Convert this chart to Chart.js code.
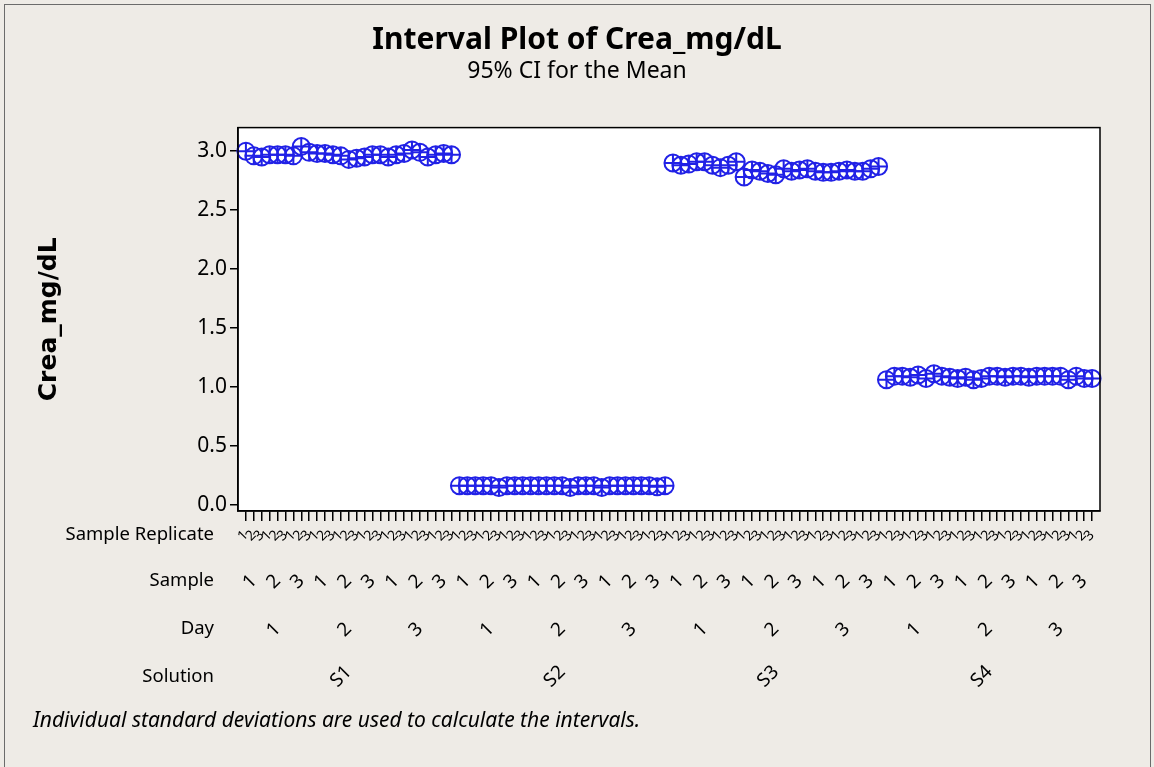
<!DOCTYPE html>
<html>
<head>
<meta charset="utf-8">
<style>
  html, body { margin: 0; padding: 0; background: #eeebe6; }
  body { width: 1154px; height: 767px; position: relative; overflow: hidden; }
  #frame { position: absolute; left: 4px; top: 4px; width: 1145px; height: 780px; border: 1px solid #6b6b6b; }
  #wrap { position: absolute; left: 0; top: 0; width: 1154px; height: 767px; }
  #note { position: absolute; left: 33px; top: 705px; font: italic 21px "Noto Sans", sans-serif; color: #000; }
</style>
</head>
<body>
<div id="frame"></div>
<div id="wrap"><canvas id="myChart" width="1154" height="767"></canvas></div>
<div id="note">Individual standard deviations are used to calculate the intervals.</div>

<script src="https://cdn.jsdelivr.net/npm/chart.js@4.4.1/dist/chart.umd.min.js"></script>
<script>
    // means per solution, in order Day 1..3 / Sample 1..3 / Replicate 1..3
    const s1Means = [3.00, 2.96, 2.95, 2.97, 2.97, 2.97, 2.96, 3.04, 2.99,
                     2.98, 2.98, 2.97, 2.96, 2.93, 2.94, 2.95, 2.97, 2.97,
                     2.95, 2.97, 2.98, 3.01, 2.99, 2.95, 2.97, 2.98, 2.97];
    const s2Means = [0.16, 0.16, 0.16, 0.16, 0.16, 0.145, 0.16, 0.16, 0.16,
                     0.16, 0.16, 0.16, 0.16, 0.16, 0.145, 0.16, 0.16, 0.16,
                     0.145, 0.16, 0.16, 0.16, 0.16, 0.16, 0.16, 0.15, 0.16];
    const s3Means = [2.90, 2.88, 2.89, 2.91, 2.91, 2.88, 2.86, 2.88, 2.91,
                     2.78, 2.84, 2.83, 2.81, 2.80, 2.85, 2.83, 2.84, 2.85,
                     2.83, 2.82, 2.82, 2.83, 2.84, 2.83, 2.83, 2.85, 2.87];
    const s4Means = [1.06, 1.09, 1.09, 1.08, 1.10, 1.07, 1.11, 1.09, 1.08,
                     1.07, 1.08, 1.06, 1.07, 1.09, 1.09, 1.08, 1.09, 1.09,
                     1.08, 1.09, 1.09, 1.09, 1.09, 1.06, 1.09, 1.07, 1.07];

    const solutions = ['S1', 'S2', 'S3', 'S4'];
    const days = ['1', '2', '3'];
    const samples = ['1', '2', '3'];
    const replicates = ['1', '2', '3'];
    const yTicks = [0.0, 0.5, 1.0, 1.5, 2.0, 2.5, 3.0];

    // flatten to one row per cell
    const allMeans = [].concat(s1Means, s2Means, s3Means, s4Means);
    const points = allMeans.map((v, i) => ({ x: i, y: v }));

    const repLabels = [], sampleLabels = [], dayLabels = [], solLabels = [];
    solutions.forEach(s => {
        solLabels.push(s);
        days.forEach(d => {
            dayLabels.push(d);
            samples.forEach(sm => {
                sampleLabels.push(sm);
                replicates.forEach(r => repLabels.push(r));
            });
        });
    });

    const n = allMeans.length;
    const blue = '#2121e6';
    const fam = '"Noto Sans", sans-serif';

    // x axis for one level: a tick at the centre of each group
    function levelAxis(labels, size, weight, fontSize, pad, height, withTicks) {
        return {
            type: 'linear', position: 'bottom', weight: weight,
            min: -1, max: n,
            border: { display: weight === 0, color: '#000', width: 1.5 },
            grid: { display: withTicks, drawOnChartArea: false, drawTicks: withTicks,
                    tickLength: 10, color: '#000', lineWidth: 1.5 },
            afterBuildTicks: s => { s.ticks = labels.map((l, i) => ({ value: i * size + (size - 1) / 2 })); },
            afterFit: s => { s.height = height; },
            ticks: {
                autoSkip: false, minRotation: 45, maxRotation: 45, padding: pad,
                color: '#000', font: { family: fam, size: fontSize },
                callback: (v, i) => labels[i]
            }
        };
    }

    const rowNames = { x: 'Sample Replicate', x2: 'Sample', x3: 'Day', x4: 'Solution' };

    const framePlugin = {
        id: 'frame',
        beforeDraw(chart) {
            const a = chart.chartArea, c = chart.ctx;
            c.save();
            c.fillStyle = '#ffffff';
            c.fillRect(a.left, a.top, a.right - a.left, a.bottom - a.top);
            c.restore();
        },
        afterDraw(chart) {
            const a = chart.chartArea, c = chart.ctx;
            c.save();
            c.strokeStyle = '#000';
            c.lineWidth = 1.5;
            c.strokeRect(a.left, a.top, a.right - a.left, a.bottom - a.top);
            c.fillStyle = '#000';
            c.font = '18.5px ' + fam;
            c.textAlign = 'right';
            c.textBaseline = 'middle';
            Object.keys(rowNames).forEach(id => {
                const s = chart.scales[id];
                c.fillText(rowNames[id], a.left - 24, s.top + 24);
            });
            c.restore();
        }
    };

    const ctx = document.getElementById('myChart').getContext('2d');
    const myChart = new Chart(ctx, {
        type: 'scatter',
        data: {
            datasets: [{
                data: points,
                pointStyle: 'circle',
                pointRadius: 8.5,
                pointHoverRadius: 8.5,
                pointBorderWidth: 2,
                pointBorderColor: blue,
                pointBackgroundColor: 'rgba(0,0,0,0)',
                clip: false,
                xAxisID: 'x'
            }, {
                data: points,
                pointStyle: 'cross',
                pointRadius: 8.5,
                pointHoverRadius: 8.5,
                pointBorderWidth: 2,
                pointBorderColor: blue,
                clip: false,
                xAxisID: 'x'
            }]
        },
        options: {
            responsive: false,
            animation: false,
            events: [],
            layout: { padding: { left: 0, right: 0, top: 0, bottom: 67 } },
            plugins: {
                legend: { display: false },
                tooltip: { enabled: false },
                title: {
                    display: true, text: 'Interval Plot of Crea_mg/dL', color: '#000',
                    font: { family: fam, size: 30, weight: 'bold' },
                    padding: { top: 22, bottom: 0 }
                },
                subtitle: {
                    display: true, text: '95% CI for the Mean', color: '#000',
                    font: { family: fam, size: 23 },
                    padding: { top: 0, bottom: 42 }
                }
            },
            scales: {
                x: levelAxis(repLabels, 1, 0, 14, 6, 46, true),
                x2: levelAxis(sampleLabels, 3, 1, 19, 13, 48, false),
                x3: levelAxis(dayLabels, 9, 2, 19, 13, 48, false),
                x4: levelAxis(solLabels, 27, 3, 19, 8, 47, false),
                y: {
                    type: 'linear', position: 'left',
                    min: -0.055, max: 3.2,
                    border: { color: '#000', width: 1.5 },
                    grid: { drawOnChartArea: false, tickLength: 8, color: '#000', lineWidth: 1.5 },
                    afterBuildTicks: s => { s.ticks = yTicks.map(v => ({ value: v })); },
                    afterFit: s => { s.width = 238; },
                    ticks: {
                        padding: 3, color: '#000',
                        font: { family: fam, size: 21 },
                        callback: v => v.toFixed(1)
                    },
                    title: {
                        display: true, text: 'Crea_mg/dL', color: '#000',
                        font: { family: '"DejaVu Sans", sans-serif', size: 25, weight: 'bold' },
                        padding: { top: 34, bottom: 0 }
                    }
                },
                // empty right margin so the title centres on the page
                yRight: {
                    type: 'linear', position: 'right', display: true,
                    border: { display: false },
                    grid: { display: false, drawTicks: false },
                    ticks: { display: false },
                    afterFit: s => { s.width = 54; }
                }
            }
        },
        plugins: [framePlugin]
    });
</script>
</body>
</html>
